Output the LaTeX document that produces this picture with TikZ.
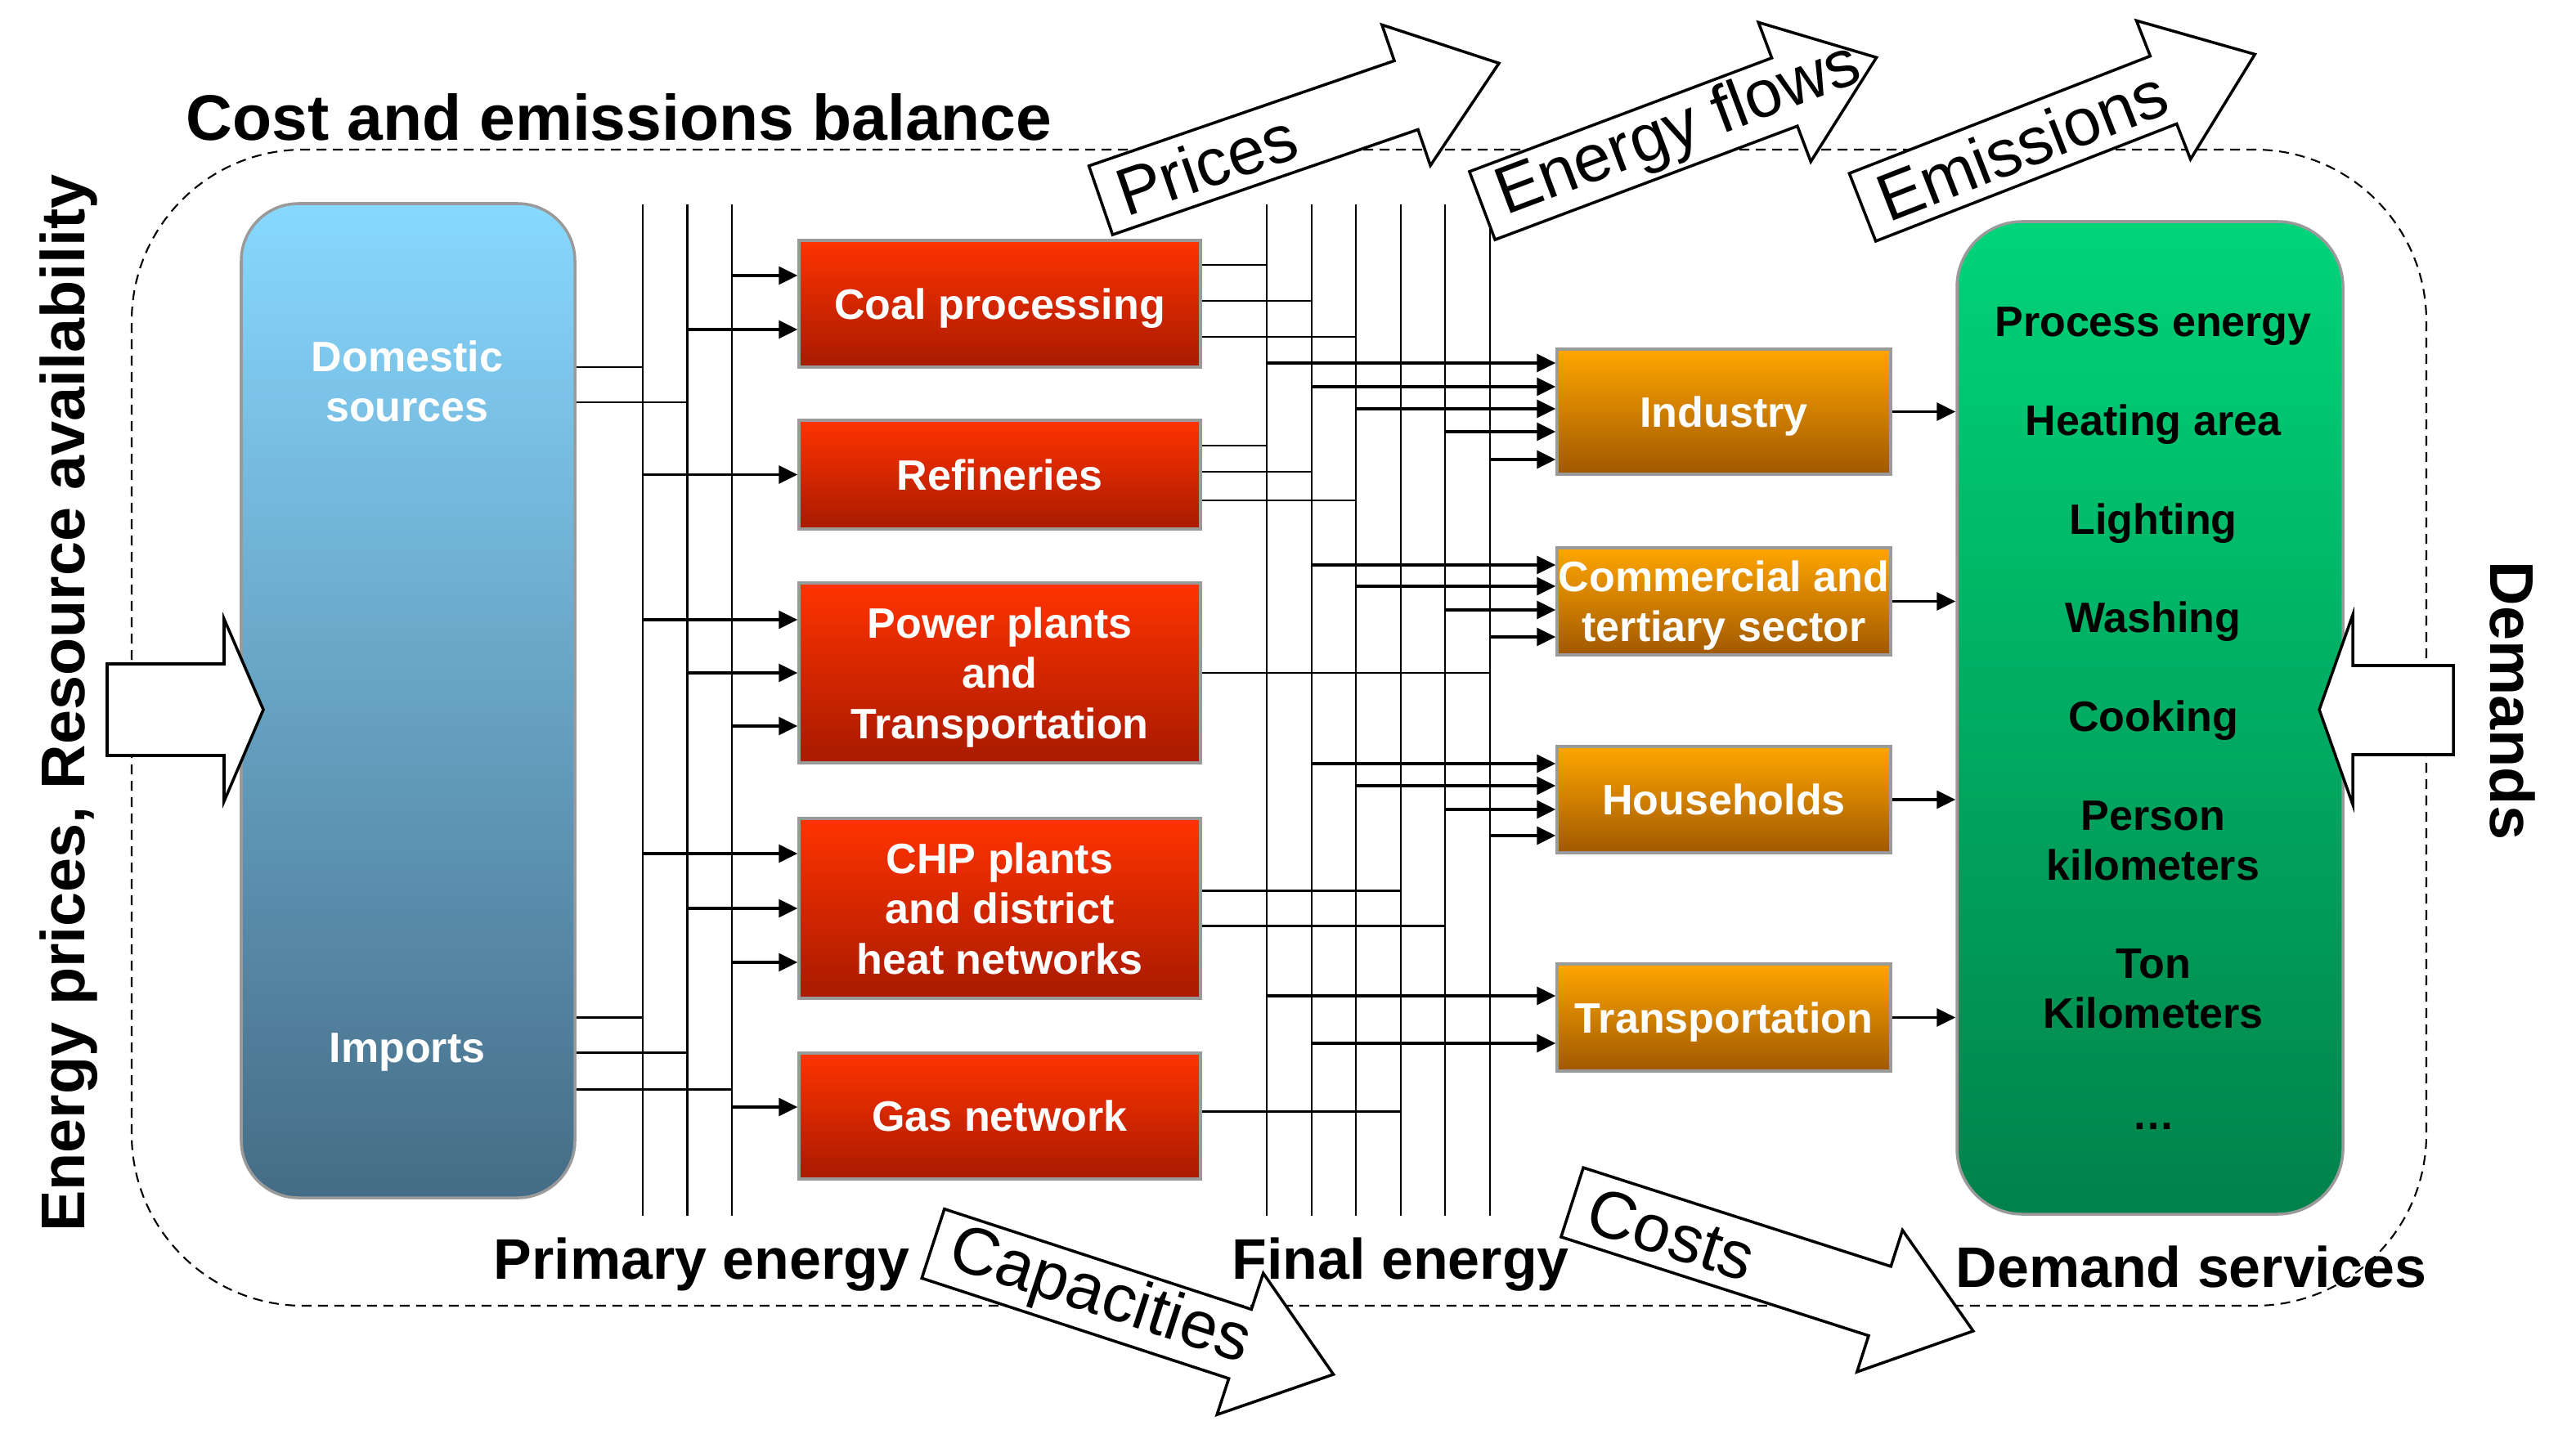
\documentclass[tikz,border=0pt]{standalone}
\usepackage{fontspec}
\setmainfont{Liberation Sans}
\usetikzlibrary{arrows.meta, calc}

\definecolor{srctop}{HTML}{88D8FF}
\definecolor{srcbot}{HTML}{456C86}
\definecolor{proctop}{HTML}{FF3300}
\definecolor{procbot}{HTML}{A81A00}
\definecolor{sectop}{HTML}{FFA600}
\definecolor{secbot}{HTML}{A05800}
\definecolor{svctop}{HTML}{00D47A}
\definecolor{svcbot}{HTML}{00824A}
\definecolor{rim}{HTML}{9A9A9A}

\begin{document}
\begin{tikzpicture}[
        source/.style={rectangle, rounded corners=0.7cm, draw=rim, line width=1pt,
            top color=srctop, bottom color=srcbot, minimum width=4.08cm, minimum height=12.16cm},
        process/.style={rectangle, draw=rim, line width=1pt, top color=proctop, bottom color=procbot,
            minimum width=4.91cm, inner xsep=0pt, text=white, align=center, text depth=0pt,
            font=\fontsize{14.8}{17.4}\selectfont\bfseries},
        sector/.style={rectangle, draw=rim, line width=1pt, top color=sectop, bottom color=secbot,
            minimum width=4.08cm, inner xsep=0pt, text=white, align=center, text depth=0pt,
            font=\fontsize{14.8}{17.4}\selectfont\bfseries},
        service/.style={rectangle, rounded corners=0.8cm, draw=rim, line width=1pt,
            top color=svctop, bottom color=svcbot, minimum width=4.72cm, minimum height=12.14cm},
        boxtext/.style={text=white, align=center, inner sep=0pt, text depth=0pt,
            font=\fontsize{14.8}{17.4}\selectfont\bfseries},
        item/.style={align=center, inner sep=0pt, text depth=0pt,
            font=\fontsize{14.8}{17.4}\selectfont\bfseries},
        bus/.style={line width=0.7pt},
        link/.style={line width=0.85pt},
        feed/.style={-{Triangle[length=2.3mm, width=2.2mm]}, line width=0.9pt},
        bigarrow/.style={draw, fill=white, line width=1pt, line join=miter},
        flowlabel/.style={anchor=west, inner sep=0pt, font=\fontsize{23.3}{28}\selectfont, transform shape},
        heading/.style={anchor=base west, inner sep=0pt, font=\fontsize{22.4}{26}\selectfont\bfseries},
        stage/.style={anchor=base west, inner sep=0pt, font=\fontsize{19.9}{24}\selectfont\bfseries},
        sidelabel/.style={inner sep=0pt, font=\fontsize{21.5}{26}\selectfont\bfseries},
        balance/.style={dash pattern=on 1.2mm off 0.8mm, line width=0.6pt, rounded corners=2.1cm},
    ]
        \useasboundingbox (0,0) rectangle (31.5,17.48);

        % Balance frame
        \draw[balance] (1.61,1.51) rectangle (29.67,15.65);

        % Energy sources
        \node[source] (src) at (4.99, 8.91) {};
        \node[boxtext] (dom) at (4.98, 12.82) {Domestic\\sources};
        \node[boxtext] (imp) at (4.98, 4.66) {Imports};

        % Conversion processes
        \node[process, minimum height=1.55cm] (coal) at (12.225, 13.765) {Coal processing};
        \node[process, minimum height=1.33cm] (ref) at (12.225, 11.675) {Refineries};
        \node[process, minimum height=2.20cm] (power) at (12.225, 9.25) {Power plants\\and\\Transportation};
        \node[process, minimum height=2.20cm] (chp) at (12.225, 6.37) {CHP plants\\and district\\heat networks};
        \node[process, minimum height=1.54cm] (gas) at (12.225, 3.83) {Gas network};

        % End use sectors
        \node[sector, minimum height=1.53cm] (ind) at (21.08, 12.445) {Industry};
        \node[sector, minimum height=1.31cm] (com) at (21.08, 10.125) {Commercial and\\tertiary sector};
        \node[sector, minimum height=1.30cm] (hh) at (21.08, 7.70) {Households};
        \node[sector, minimum height=1.31cm] (tra) at (21.08, 5.035) {Transportation};

        % Demand services
        \node[service] (svc) at (26.29, 8.70) {};
        \node[item] (d1) at (26.33, 13.54) {Process energy};
        \node[item] (d2) at (26.33, 12.34) {Heating area};
        \node[item] (d3) at (26.33, 11.13) {Lighting};
        \node[item] (d4) at (26.33, 9.93) {Washing};
        \node[item] (d5) at (26.33, 8.72) {Cooking};
        \node[item] (d6) at (26.33, 7.195) {Person\\kilometers};
        \node[item] (d7) at (26.33, 5.385) {Ton\\Kilometers};
        \node[item] (d8) at (26.33, 3.70) {\dots};

        % Energy buses
        \coordinate (base) at (0, 2.61);
        \coordinate (P1) at (7.86, 14.98);
        \coordinate (P2) at (8.405, 14.98);
        \coordinate (P3) at (8.95, 14.98);
        \coordinate (F1) at (15.49, 14.98);
        \coordinate (F2) at (16.04, 14.98);
        \coordinate (F3) at (16.58, 14.98);
        \coordinate (F4) at (17.13, 14.98);
        \coordinate (F5) at (17.67, 14.98);
        \coordinate (F6) at (18.22, 14.98);
        \draw[bus] (P1) -- (P1 |- base);
        \draw[bus] (P2) -- (P2 |- base);
        \draw[bus] (P3) -- (P3 |- base);
        \draw[bus] (F1) -- (F1 |- base);
        \draw[bus] (F2) -- (F2 |- base);
        \draw[bus] (F3) -- (F3 |- base);
        \draw[bus] (F4) -- (F4 |- base);
        \draw[bus] (F5) -- (F5 |- base);
        \draw[bus] (F6) -- (F6 |- base);

        % Sources to primary energy
        \draw[link] ($(src.east |- dom)+(0,.17)$) -- ($(P1 |- dom)+(0,.17)$);
        \draw[link] ($(src.east |- dom)+(0,-.26)$) -- ($(P2 |- dom)+(0,-.26)$);
        \draw[link] ($(src.east |- imp)+(0,.38)$) -- ($(P1 |- imp)+(0,.38)$);
        \draw[link] ($(src.east |- imp)+(0,-.05)$) -- ($(P2 |- imp)+(0,-.05)$);
        \draw[link] ($(src.east |- imp)+(0,-.50)$) -- ($(P3 |- imp)+(0,-.50)$);

        % Primary energy to processes
        \draw[feed] ($(P3 |- coal)+(0,.345)$) -- ($(coal.west)+(0,.345)$);
        \draw[feed] ($(P2 |- coal)+(0,-.315)$) -- ($(coal.west)+(0,-.315)$);
        \draw[feed] (P1 |- ref) -- (ref.west);
        \draw[feed] ($(P1 |- power)+(0,.65)$) -- ($(power.west)+(0,.65)$);
        \draw[feed] (P2 |- power) -- (power.west);
        \draw[feed] ($(P3 |- power)+(0,-.65)$) -- ($(power.west)+(0,-.65)$);
        \draw[feed] ($(P1 |- chp)+(0,.67)$) -- ($(chp.west)+(0,.67)$);
        \draw[feed] (P2 |- chp) -- (chp.west);
        \draw[feed] ($(P3 |- chp)+(0,-.66)$) -- ($(chp.west)+(0,-.66)$);
        \draw[feed] ($(P3 |- gas)+(0,.11)$) -- ($(gas.west)+(0,.11)$);

        % Processes to final energy
        \draw[link] ($(coal.east)+(0,.475)$) -- ($(F1 |- coal)+(0,.475)$);
        \draw[link] ($(coal.east)+(0,.035)$) -- ($(F2 |- coal)+(0,.035)$);
        \draw[link] ($(coal.east)+(0,-.405)$) -- ($(F3 |- coal)+(0,-.405)$);
        \draw[link] ($(ref.east)+(0,.355)$) -- ($(F1 |- ref)+(0,.355)$);
        \draw[link] ($(ref.east)+(0,.035)$) -- ($(F2 |- ref)+(0,.035)$);
        \draw[link] ($(ref.east)+(0,-.315)$) -- ($(F3 |- ref)+(0,-.315)$);
        \draw[link] (power.east) -- (F6 |- power);
        \draw[link] ($(chp.east)+(0,.22)$) -- ($(F4 |- chp)+(0,.22)$);
        \draw[link] ($(chp.east)+(0,-.21)$) -- ($(F5 |- chp)+(0,-.21)$);
        \draw[link] ($(gas.east)+(0,.06)$) -- ($(F4 |- gas)+(0,.06)$);

        % Final energy to sectors
        \draw[feed] ($(F1 |- ind)+(0,.595)$) -- ($(ind.west)+(0,.595)$);
        \draw[feed] ($(F2 |- ind)+(0,.305)$) -- ($(ind.west)+(0,.305)$);
        \draw[feed] ($(F3 |- ind)+(0,.035)$) -- ($(ind.west)+(0,.035)$);
        \draw[feed] ($(F5 |- ind)+(0,-.245)$) -- ($(ind.west)+(0,-.245)$);
        \draw[feed] ($(F6 |- ind)+(0,-.585)$) -- ($(ind.west)+(0,-.585)$);
        \draw[feed] ($(F2 |- com)+(0,.445)$) -- ($(com.west)+(0,.445)$);
        \draw[feed] ($(F3 |- com)+(0,.185)$) -- ($(com.west)+(0,.185)$);
        \draw[feed] ($(F5 |- com)+(0,-.105)$) -- ($(com.west)+(0,-.105)$);
        \draw[feed] ($(F6 |- com)+(0,-.435)$) -- ($(com.west)+(0,-.435)$);
        \draw[feed] ($(F2 |- hh)+(0,.44)$) -- ($(hh.west)+(0,.44)$);
        \draw[feed] ($(F3 |- hh)+(0,.17)$) -- ($(hh.west)+(0,.17)$);
        \draw[feed] ($(F5 |- hh)+(0,-.12)$) -- ($(hh.west)+(0,-.12)$);
        \draw[feed] ($(F6 |- hh)+(0,-.44)$) -- ($(hh.west)+(0,-.44)$);
        \draw[feed] ($(F1 |- tra)+(0,.265)$) -- ($(tra.west)+(0,.265)$);
        \draw[feed] ($(F2 |- tra)+(0,-.315)$) -- ($(tra.west)+(0,-.315)$);

        % Sectors to demand services
        \draw[feed] (ind.east) -- (ind.east -| svc.west);
        \draw[feed] (com.east) -- (com.east -| svc.west);
        \draw[feed] (hh.east) -- (hh.east -| svc.west);
        \draw[feed] (tra.east) -- (tra.east -| svc.west);

        % Exogenous inputs
        \draw[bigarrow] (1.31,9.36) -- (2.74,9.36) -- (2.74,9.91) -- (3.22,8.80)
            -- (2.74,7.68) -- (2.74,8.24) -- (1.31,8.24) -- cycle;
        \draw[bigarrow] (30.00,9.34) -- (28.77,9.34) -- (28.77,9.96) -- (28.36,8.80)
            -- (28.77,7.64) -- (28.77,8.25) -- (30.00,8.25) -- cycle;

        % Model outputs
        \begin{scope}[shift={(13.46,15.03)}, rotate=19]
            \draw[bigarrow] (0,-0.445) -- (3.95,-0.445) -- (3.95,-0.91) -- (5.15,0)
                -- (3.95,0.91) -- (3.95,0.445) -- (0,0.445) -- cycle;
            \node[flowlabel] (prices) at (0.22,0) {Prices};
        \end{scope}
        \begin{scope}[shift={(18.125,14.965)}, rotate=20.6]
            \draw[bigarrow] (0,-0.445) -- (3.95,-0.445) -- (3.95,-0.91) -- (5.15,0)
                -- (3.95,0.91) -- (3.95,0.445) -- (0,0.445) -- cycle;
            \node[flowlabel] (flows) at (0.22,0) {Energy flows};
        \end{scope}
        \begin{scope}[shift={(22.775,14.945)}, rotate=21.3]
            \draw[bigarrow] (0,-0.445) -- (3.95,-0.445) -- (3.95,-0.91) -- (5.15,0)
                -- (3.95,0.91) -- (3.95,0.445) -- (0,0.445) -- cycle;
            \node[flowlabel] (emis) at (0.22,0) {Emissions};
        \end{scope}
        \begin{scope}[shift={(11.41,2.27)}, rotate=-18.1]
            \draw[bigarrow] (0,-0.445) -- (3.95,-0.445) -- (3.95,-0.91) -- (5.15,0)
                -- (3.95,0.91) -- (3.95,0.445) -- (0,0.445) -- cycle;
            \node[flowlabel] (caps) at (0.22,0) {Capacities};
        \end{scope}
        \begin{scope}[shift={(19.225,2.775)}, rotate=-17.8]
            \draw[bigarrow] (0,-0.445) -- (3.95,-0.445) -- (3.95,-0.91) -- (5.15,0)
                -- (3.95,0.91) -- (3.95,0.445) -- (0,0.445) -- cycle;
            \node[flowlabel] (costs) at (0.22,0) {Costs};
        \end{scope}

        % Labels
        \node[heading] (title) at (2.27, 15.76) {Cost and emissions balance};
        \node[stage] (prim) at (6.03, 1.84) {Primary energy};
        \node[stage] (fin) at (15.06, 1.84) {Final energy};
        \node[stage] (dsv) at (23.91, 1.74) {Demand services};
        \node[sidelabel, rotate=90] (supply) at (0.84, 8.88) {Energy prices, Resource availability};
        \node[sidelabel, rotate=-90] (demands) at (30.72, 8.91) {Demands};
    \end{tikzpicture}
\end{document}
